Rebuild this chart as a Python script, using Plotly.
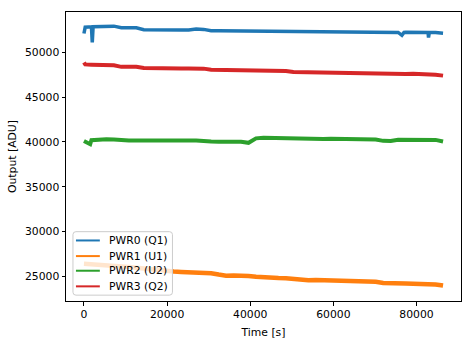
import plotly.graph_objects as go

# ---------------- data ----------------
time_grid = [0, 1800, 3600, 5400, 7200, 9000, 10800, 12600, 14400, 16200,
             18000, 19800, 21600, 23400, 25200, 27000, 28800, 30600, 32400, 34200,
             36000, 37800, 39600, 41400, 43200, 45000, 46800, 48600, 50400, 52200,
             54000, 55800, 57600, 59400, 61200, 63000, 64800, 66600, 68400, 70200,
             72000, 73800, 75600, 77400, 79200, 81000, 82800, 84600, 86400]

pwr0_time = [0, 300, 1800, 2000, 2200, 3600, 5400, 7200, 9000, 10800, 12600, 14400,
             16200, 18000, 19800, 21600, 23400, 25200, 27000, 28800, 30600, 32400,
             34200, 36000, 37800, 39600, 41400, 43200, 45000, 46800, 48600, 50400,
             52200, 54000, 55800, 57600, 59400, 61200, 63000, 64800, 66600, 68400,
             70200, 72000, 73800, 75600, 76500, 77000, 77400, 79200, 81000, 82800,
             82900, 83100, 84600, 86400]
pwr0_q1 = [52100, 52800, 52850, 51100, 52850, 52880, 52900, 52920, 52750, 52720, 52730,
           52520, 52500, 52510, 52490, 52500, 52480, 52500, 52590, 52560, 52420, 52400,
           52390, 52410, 52400, 52380, 52400, 52390, 52370, 52380, 52360, 52350, 52330,
           52290, 52300, 52280, 52300, 52290, 52270, 52280, 52260, 52280, 52270, 52260,
           52250, 52220, 51900, 52220, 52230, 52220, 52230, 52220, 51650, 52210, 52200,
           52130]

pwr1_u1 = [26400, 26350, 26350, 26300, 26250, 26150, 26050, 25950, 25850, 25750,
           25650, 25550, 25530, 25500, 25490, 25480, 25470, 25350, 25200, 25080,
           25090, 25110, 25050, 24950, 24880, 24830, 24820, 24800, 24700, 24600,
           24560, 24580, 24560, 24540, 24530, 24500, 24430, 24400, 24420, 24390,
           24250, 24200, 24210, 24200, 24180, 24160, 24150, 24100, 23980]

pwr2_time = [0, 1500, 1800, 3600, 5400, 7200, 9000, 10800, 12600, 14400, 16200,
             18000, 19800, 21600, 23400, 25200, 27000, 28800, 30600, 32400, 34200,
             36000, 37800, 39600, 41400, 43200, 45000, 46800, 48600, 50400, 52200,
             54000, 55800, 57600, 59400, 61200, 63000, 64800, 66600, 68400, 70200,
             72000, 73800, 75600, 77400, 79200, 81000, 82800, 84600, 86400]
pwr2_u2 = [40110, 39750, 40200, 40290, 40300, 40270, 40160, 40150, 40170, 40140,
           40160, 40150, 40170, 40140, 40160, 40150, 40170, 40080, 40040, 40030,
           40040, 40050, 40030, 39900, 40400, 40460, 40440, 40350, 40330, 40340,
           40320, 40330, 40340, 40330, 40350, 40340, 40360, 40330, 40340, 40320,
           40280, 40120, 40100, 40240, 40250, 40260, 40240, 40270, 40230, 40050]

pwr3_time = [0, 300] + time_grid[1:]
pwr3_q2 = [48870, 48650, 48620, 48600, 48640, 48550, 48380, 48370, 48390, 48250,
           48220, 48230, 48210, 48220, 48200, 48190, 48210, 48180, 48060, 48050,
           48040, 48030, 48040, 47950, 47940, 47930, 47920, 47930, 47910, 47800,
           47780, 47790, 47770, 47780, 47760, 47790, 47770, 47750, 47640, 47620,
           47610, 47600, 47620, 47590, 47580, 47600, 47590, 47570, 47500, 47400]

series_names = ["PWR0 (Q1)", "PWR1 (U1)", "PWR2 (U2)", "PWR3 (Q2)"]
colors = ["#1f77b4", "#ff7f0e", "#2ca02c", "#d62728"]

x_ticks = [0, 20000, 40000, 60000, 80000]
y_ticks = [25000, 30000, 35000, 40000, 45000, 50000]

series = [
    (pwr0_time, pwr0_q1, 3.5),
    (time_grid, pwr1_u1, 4.5),
    (pwr2_time, pwr2_u2, 4),
    (pwr3_time, pwr3_q2, 4),
]

FS = 10.8
font = dict(family="DejaVu Sans", size=FS, color="black")

# plot-area geometry in pixels (for the hand-drawn matplotlib-style legend)
W, H = 473, 347
ML, MR, MT, MB = 65, 11, 11, 40
PW, PH = W - ML - MR, H - MT - MB


def px(xp):
    return (xp - ML) / PW


def py(yp):
    return (H - MB - yp) / PH


fig = go.Figure()
for (t, v, w), c, name in zip(series, colors, series_names):
    fig.add_trace(go.Scatter(x=t, y=v, mode="lines", name=name,
                             line=dict(color=c, width=w),
                             showlegend=False, hoverinfo="skip"))

# legend box (rounded, semi-transparent like matplotlib)
x0, x1, y0, y1, r = 72, 172, 236, 301, 3
path = (f"M {px(x0 + r)} {py(y0)} L {px(x1 - r)} {py(y0)} "
        f"Q {px(x1)} {py(y0)} {px(x1)} {py(y0 + r)} "
        f"L {px(x1)} {py(y1 - r)} Q {px(x1)} {py(y1)} {px(x1 - r)} {py(y1)} "
        f"L {px(x0 + r)} {py(y1)} Q {px(x0)} {py(y1)} {px(x0)} {py(y1 - r)} "
        f"L {px(x0)} {py(y0 + r)} Q {px(x0)} {py(y0)} {px(x0 + r)} {py(y0)} Z")
shapes = [dict(type="path", xref="paper", yref="paper", path=path,
               fillcolor="rgba(255,255,255,0.8)", line=dict(color="#cccccc", width=1),
               layer="above")]
annotations = []
row_y = [245, 261, 276, 292]
for name, c, ry in zip(series_names, colors, row_y):
    shapes.append(dict(type="line", xref="paper", yref="paper",
                       x0=px(75), x1=px(99), y0=py(ry), y1=py(ry),
                       line=dict(color=c, width=2), layer="above"))
    annotations.append(dict(xref="paper", yref="paper", x=px(106), y=py(ry),
                            xanchor="left", yanchor="middle", text=name,
                            showarrow=False, font=font))

axis_common = dict(showline=True, linecolor="black", linewidth=1, mirror=True,
                   ticks="outside", ticklen=3.5, tickcolor="black", tickwidth=1,
                   showgrid=False, zeroline=False, tickfont=font, tickformat="d")

fig.update_layout(
    width=W, height=H,
    margin=dict(l=ML, r=MR, t=MT, b=MB),
    paper_bgcolor="white", plot_bgcolor="white",
    font=font,
    showlegend=False,
    xaxis=dict(range=[-4320, 90720], tickvals=x_ticks,
               title=dict(text="Time [s]", font=font, standoff=7), **axis_common),
    yaxis=dict(range=[22250, 54500], tickvals=y_ticks,
               title=dict(text="Output [ADU]", font=font, standoff=6), **axis_common),
    shapes=shapes,
    annotations=annotations,
)

fig.write_html("out.html")
